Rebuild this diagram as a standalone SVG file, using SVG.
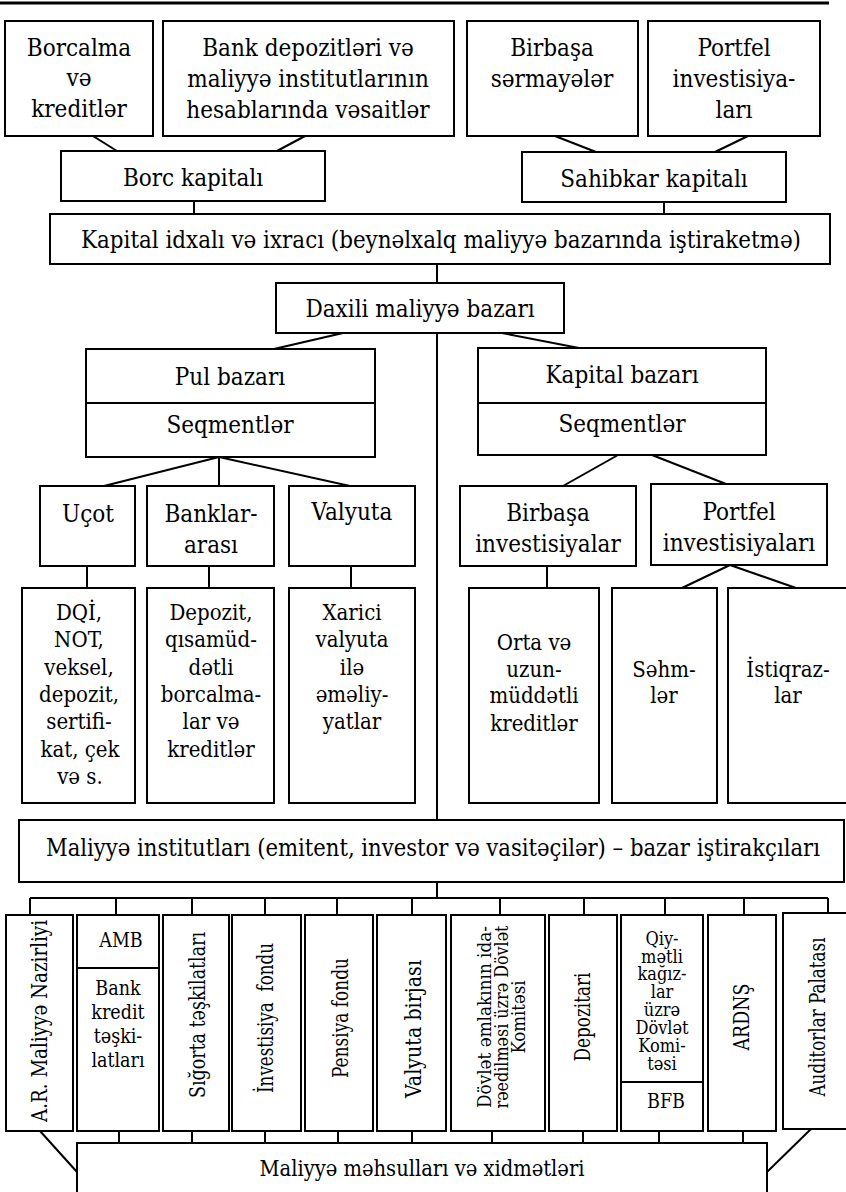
<svg xmlns="http://www.w3.org/2000/svg" width="846" height="1192" viewBox="0 0 846 1192">
  <style>
    .box { fill: #fff; stroke: #000; stroke-width: 2; }
    .ln { fill: none; stroke: #000; stroke-width: 2; }
    .t { font-family: "DejaVu Serif", serif; font-stretch: condensed; font-size: 24px; text-anchor: middle; fill: #000; }
    .m { font-size: 22px; }
    .s { font-size: 19.5px; }
    .xs { font-size: 18px; }
    .r { font-size: 23px; }
  </style>
  <rect width="846" height="1192" fill="#fff"/>
  <line x1="0" y1="3" x2="829" y2="3" stroke="#000" stroke-width="3"/>

  <!-- connectors -->
  <g id="connectors" class="ln">
    <line x1="93" y1="136" x2="117" y2="151"/>
    <line x1="305" y1="136" x2="277" y2="151"/>
    <line x1="555" y1="136" x2="596" y2="152"/>
    <line x1="748" y1="136" x2="715" y2="152"/>
    <line x1="194" y1="201" x2="194" y2="214"/>
    <line x1="664" y1="202" x2="664" y2="214"/>
    <line x1="437" y1="264" x2="437" y2="283"/>
    <line x1="343" y1="333" x2="274" y2="349"/>
    <line x1="502" y1="333" x2="579" y2="348"/>
    <line x1="437" y1="333" x2="437" y2="820"/>
    <line x1="219" y1="457" x2="104" y2="486"/>
    <line x1="219" y1="457" x2="219" y2="486"/>
    <line x1="219" y1="457" x2="350" y2="486"/>
    <line x1="618" y1="455" x2="563" y2="486"/>
    <line x1="652" y1="455" x2="726" y2="484"/>
    <line x1="87" y1="566" x2="87" y2="588"/>
    <line x1="209" y1="566" x2="209" y2="588"/>
    <line x1="351" y1="566" x2="351" y2="588"/>
    <line x1="547" y1="566" x2="547" y2="588"/>
    <line x1="730" y1="565" x2="682" y2="588"/>
    <line x1="730" y1="565" x2="796" y2="588"/>
    <line x1="437" y1="882" x2="437" y2="898"/>
    <line x1="30" y1="898" x2="828" y2="898"/>
    <path d="M30 898V915M116 898V915M192 898V915M265 898V915M337 898V915M412 898V915M500 898V915M584 898V915M665 898V915M744 898V915M828 898V913"/>
    <path d="M119 1131V1143M192 1131V1143M265 1131V1143M338 1131V1143M412 1131V1143M492 1131V1143M583 1131V1143M659 1131V1143M743 1131V1143"/>
    <line x1="40" y1="1131" x2="77" y2="1172"/>
    <line x1="811" y1="1129" x2="767" y2="1172"/>
  </g>

  <!-- sources of capital -->
  <g id="borcalma">
    <rect class="box" x="5" y="21" width="148" height="115"/>
    <text class="t" x="79" y="56">Borcalma</text>
    <text class="t" x="79" y="86">və</text>
    <text class="t" x="79" y="117">kreditlər</text>
  </g>
  <g id="bank-depozitleri">
    <rect class="box" x="163" y="21" width="291" height="115"/>
    <text class="t" x="308" y="56">Bank depozitləri və</text>
    <text class="t" x="308" y="87">maliyyə institutlarının</text>
    <text class="t" x="308" y="118">hesablarında vəsaitlər</text>
  </g>
  <g id="birbasa-sermayeler">
    <rect class="box" x="467" y="21" width="171" height="115"/>
    <text class="t" x="552" y="56">Birbaşa</text>
    <text class="t" x="552" y="87">sərmayələr</text>
  </g>
  <g id="portfel-investisiyalari-top">
    <rect class="box" x="648" y="21" width="172" height="115"/>
    <text class="t" x="734" y="56">Portfel</text>
    <text class="t" x="734" y="87">investisiya-</text>
    <text class="t" x="734" y="118">ları</text>
  </g>
  <g id="borc-kapitali">
    <rect class="box" x="61" y="151" width="264" height="50"/>
    <text class="t" x="193" y="186">Borc kapitalı</text>
  </g>
  <g id="sahibkar-kapitali">
    <rect class="box" x="522" y="152" width="264" height="50"/>
    <text class="t" x="654" y="187">Sahibkar kapitalı</text>
  </g>
  <g id="kapital-idxali">
    <rect class="box" x="50" y="214" width="780" height="50"/>
    <text class="t" x="441" y="248" textLength="720" lengthAdjust="spacingAndGlyphs">Kapital idxalı və ixracı (beynəlxalq maliyyə bazarında iştiraketmə)</text>
  </g>
  <g id="daxili-bazar">
    <rect class="box" x="276" y="283" width="288" height="50"/>
    <text class="t" x="420" y="317">Daxili maliyyə bazarı</text>
  </g>

  <!-- market segments -->
  <g id="pul-bazari">
    <rect class="box" x="86" y="349" width="289" height="108"/>
    <line class="ln" x1="86" y1="403" x2="375" y2="403"/>
    <text class="t" x="230" y="385">Pul bazarı</text>
    <text class="t" x="230" y="433">Seqmentlər</text>
  </g>
  <g id="kapital-bazari">
    <rect class="box" x="478" y="348" width="288" height="107"/>
    <line class="ln" x1="478" y1="403" x2="766" y2="403"/>
    <text class="t" x="622" y="383">Kapital bazarı</text>
    <text class="t" x="622" y="432">Seqmentlər</text>
  </g>
  <g id="ucot">
    <rect class="box" x="40" y="486" width="95" height="80"/>
    <text class="t" x="88" y="522">Uçot</text>
  </g>
  <g id="banklararasi">
    <rect class="box" x="147" y="486" width="127" height="80"/>
    <text class="t" x="211" y="522">Banklar-</text>
    <text class="t" x="211" y="553">arası</text>
  </g>
  <g id="valyuta">
    <rect class="box" x="289" y="486" width="126" height="80"/>
    <text class="t" x="352" y="520">Valyuta</text>
  </g>
  <g id="birbasa-investisiyalar">
    <rect class="box" x="460" y="486" width="176" height="80"/>
    <text class="t" x="548" y="521">Birbaşa</text>
    <text class="t" x="548" y="552">investisiyalar</text>
  </g>
  <g id="portfel-investisiyalari">
    <rect class="box" x="651" y="484" width="176" height="81"/>
    <text class="t" x="739" y="520">Portfel</text>
    <text class="t" x="739" y="551">investisiyaları</text>
  </g>

  <!-- instruments -->
  <g id="dqi" class="t m">
    <rect class="box" x="22" y="588" width="113" height="215"/>
    <text x="79" y="620">DQİ,</text>
    <text x="79" y="647">NOT,</text>
    <text x="79" y="675">veksel,</text>
    <text x="79" y="702">depozit,</text>
    <text x="79" y="729">sertifi-</text>
    <text x="80" y="757">kat, çek</text>
    <text x="80" y="784">və s.</text>
  </g>
  <g id="depozit" class="t m">
    <rect class="box" x="147" y="588" width="127" height="215"/>
    <text x="211" y="620">Depozit,</text>
    <text x="211" y="647">qısamüd-</text>
    <text x="211" y="675">dətli</text>
    <text x="211" y="702">borcalma-</text>
    <text x="211" y="729">lar və</text>
    <text x="211" y="757">kreditlər</text>
  </g>
  <g id="xarici-valyuta" class="t m">
    <rect class="box" x="289" y="588" width="126" height="215"/>
    <text x="352" y="620">Xarici</text>
    <text x="352" y="647">valyuta</text>
    <text x="352" y="675">ilə</text>
    <text x="352" y="702">əməliy-</text>
    <text x="352" y="729">yatlar</text>
  </g>
  <g id="orta-uzun" class="t m">
    <rect class="box" x="469" y="588" width="130" height="215"/>
    <text x="534" y="650">Orta və</text>
    <text x="534" y="677">uzun-</text>
    <text x="534" y="703">müddətli</text>
    <text x="534" y="731">kreditlər</text>
  </g>
  <g id="sehmler" class="t m">
    <rect class="box" x="612" y="588" width="105" height="215"/>
    <text x="664" y="677">Səhm-</text>
    <text x="664" y="703">lər</text>
  </g>
  <g id="istiqrazlar" class="t m">
    <rect class="box" x="728" y="588" width="120" height="215"/>
    <text x="788" y="677">İstiqraz-</text>
    <text x="788" y="703">lar</text>
  </g>

  <!-- participants -->
  <g id="maliyye-institutlari">
    <rect class="box" x="19" y="820" width="825" height="62"/>
    <text class="t" x="433" y="856" textLength="774" lengthAdjust="spacingAndGlyphs">Maliyyə institutları (emitent, investor və vasitəçilər) – bazar iştirakçıları</text>
  </g>
  <g id="maliyye-nazirliyi">
    <rect class="box" x="6" y="915" width="67" height="216"/>
    <text class="t r" transform="translate(47,1021) rotate(-90)" textLength="202" lengthAdjust="spacingAndGlyphs">A.R. Maliyyə Nazirliyi</text>
  </g>
  <g id="amb-bank">
    <rect class="box" x="77" y="915" width="82" height="216"/>
    <line class="ln" x1="77" y1="968" x2="159" y2="968"/>
    <text class="t s" x="121" y="947">AMB</text>
    <text class="t s" x="118" y="995">Bank</text>
    <text class="t s" x="118" y="1019">kredit</text>
    <text class="t s" x="118" y="1043">təşki-</text>
    <text class="t s" x="118" y="1067">latları</text>
  </g>
  <g id="sigorta">
    <rect class="box" x="163" y="915" width="66" height="216"/>
    <text class="t r" transform="translate(205,1015) rotate(-90)" textLength="166" lengthAdjust="spacingAndGlyphs">Sığorta təşkilatları</text>
  </g>
  <g id="investisiya-fondu">
    <rect class="box" x="232" y="915" width="69" height="216"/>
    <text class="t r" xml:space="preserve" transform="translate(273,1018) rotate(-90)" textLength="150" lengthAdjust="spacingAndGlyphs">İnvestisiya  fondu</text>
  </g>
  <g id="pensiya-fondu">
    <rect class="box" x="305" y="915" width="68" height="216"/>
    <text class="t r" transform="translate(348,1018) rotate(-90)" textLength="120" lengthAdjust="spacingAndGlyphs">Pensiya fondu</text>
  </g>
  <g id="valyuta-birjasi">
    <rect class="box" x="377" y="915" width="69" height="216"/>
    <text class="t r" transform="translate(421,1029) rotate(-90)" textLength="138" lengthAdjust="spacingAndGlyphs">Valyuta birjası</text>
  </g>
  <g id="dovlet-emlaki">
    <rect class="box" x="451" y="915" width="94" height="216"/>
    <text class="t xs" transform="translate(491,1017) rotate(-90)" textLength="182" lengthAdjust="spacingAndGlyphs">Dövlət əmlakının ida-</text>
    <text class="t xs" transform="translate(508,1017) rotate(-90)" textLength="183" lengthAdjust="spacingAndGlyphs">rəedilməsi üzrə Dövlət</text>
    <text class="t xs" transform="translate(525,1017) rotate(-90)" textLength="73" lengthAdjust="spacingAndGlyphs">Komitəsi</text>
  </g>
  <g id="depozitari">
    <rect class="box" x="549" y="915" width="68" height="216"/>
    <text class="t r" transform="translate(590,1017) rotate(-90)" textLength="89" lengthAdjust="spacingAndGlyphs">Depozitari</text>
  </g>
  <g id="qiymetli-kagizlar">
    <rect class="box" x="621" y="915" width="82" height="216"/>
    <line class="ln" x1="621" y1="1082" x2="703" y2="1082"/>
    <text class="t xs" x="662" y="945">Qiy-</text>
    <text class="t xs" x="662" y="963">mətli</text>
    <text class="t xs" x="662" y="980">kağız-</text>
    <text class="t xs" x="662" y="998">lar</text>
    <text class="t xs" x="662" y="1016">üzrə</text>
    <text class="t xs" x="662" y="1034">Dövlət</text>
    <text class="t xs" x="662" y="1052">Komi-</text>
    <text class="t xs" x="662" y="1070">təsi</text>
    <text class="t s" x="666" y="1108">BFB</text>
  </g>
  <g id="ardns">
    <rect class="box" x="708" y="915" width="68" height="216"/>
    <text class="t r" transform="translate(749,1017) rotate(-90)" textLength="67" lengthAdjust="spacingAndGlyphs">ARDNŞ</text>
  </g>
  <g id="auditorlar-palatasi">
    <rect class="box" x="783" y="913" width="66" height="216"/>
    <text class="t r" transform="translate(825,1017) rotate(-90)" textLength="159" lengthAdjust="spacingAndGlyphs">Auditorlar Palatası</text>
  </g>

  <!-- products and services -->
  <g id="maliyye-mehsullari">
    <rect class="box" x="77" y="1143" width="690" height="60"/>
    <text class="t m" x="422" y="1176" textLength="325" lengthAdjust="spacingAndGlyphs">Maliyyə məhsulları və xidmətləri</text>
  </g>
</svg>
